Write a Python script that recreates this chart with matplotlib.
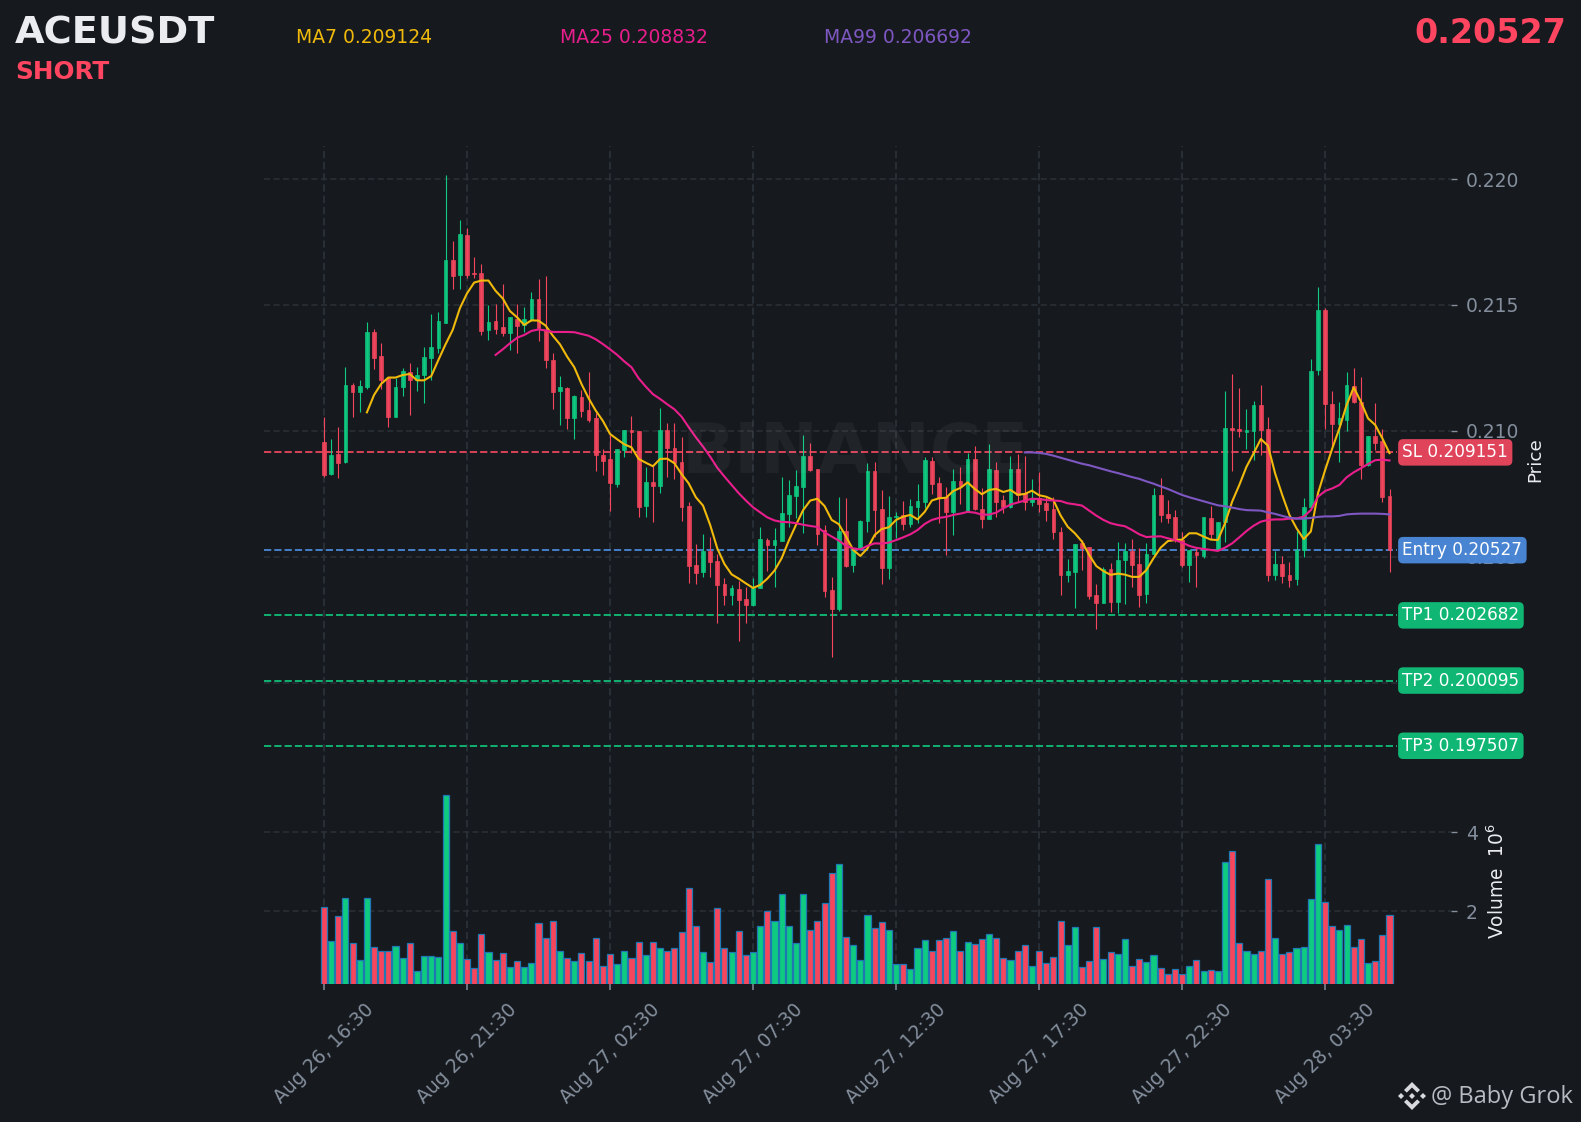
import numpy as np
import matplotlib
matplotlib.use("Agg")
import matplotlib.pyplot as plt
from matplotlib.patches import Polygon

# Values
opens = [
    0.20956, 0.20829, 0.20910, 0.20877, 0.21183, 0.21155, 0.21175, 0.21393, 0.21298, 0.21209,
    0.21056, 0.21175, 0.21234, 0.21202, 0.21222, 0.21290, 0.21329, 0.21429, 0.21679, 0.21619,
    0.21778, 0.21626, 0.21627, 0.21401, 0.21437, 0.21413, 0.21389, 0.21444, 0.21421, 0.21440,
    0.21524, 0.21401, 0.21282, 0.21159, 0.21171, 0.21052, 0.21135, 0.21083, 0.21052, 0.20905,
    0.20889, 0.20790, 0.20925, 0.21004, 0.21000, 0.20702, 0.20798, 0.20782, 0.21004, 0.20933,
    0.20877, 0.20702, 0.20468, 0.20440, 0.20524, 0.20484, 0.20393, 0.20349, 0.20373, 0.20333,
    0.20309, 0.20377, 0.20567, 0.20548, 0.20563, 0.20671, 0.20742, 0.20778, 0.20901, 0.20849,
    0.20607, 0.20369, 0.20294, 0.20603, 0.20468, 0.20536, 0.20643, 0.20841, 0.20690, 0.20456,
    0.20659, 0.20667, 0.20631, 0.20698, 0.20718, 0.20881, 0.20794, 0.20739, 0.20679, 0.20802,
    0.20679, 0.20889, 0.20689, 0.20651, 0.20845, 0.20726, 0.20698, 0.20849, 0.20753, 0.20720,
    0.20733, 0.20714, 0.20690, 0.20599, 0.20429, 0.20440, 0.20556, 0.20540, 0.20349, 0.20317,
    0.20452, 0.20321, 0.20488, 0.20524, 0.20472, 0.20353, 0.20512, 0.20746, 0.20671, 0.20659,
    0.20567, 0.20468, 0.20520, 0.20504, 0.20655, 0.20528, 0.20639, 0.21012, 0.21008, 0.20996,
    0.21000, 0.21103, 0.21008, 0.20429, 0.20472, 0.20429, 0.20413, 0.20528, 0.20698, 0.21242,
    0.21480, 0.21107, 0.21028, 0.21044, 0.21179, 0.21115, 0.20865, 0.20980, 0.20960, 0.20742,
]
highs = [
    0.21054, 0.20967, 0.21017, 0.21255, 0.21189, 0.21201, 0.21434, 0.21403, 0.21348, 0.21209,
    0.21209, 0.21249, 0.21269, 0.21253, 0.21332, 0.21463, 0.21474, 0.22017, 0.21753, 0.21836,
    0.21804, 0.21689, 0.21661, 0.21499, 0.21504, 0.21582, 0.21452, 0.21504, 0.21491, 0.21550,
    0.21602, 0.21614, 0.21308, 0.21217, 0.21175, 0.21144, 0.21163, 0.21233, 0.21070, 0.20927,
    0.20984, 0.20930, 0.21004, 0.21058, 0.21000, 0.20856, 0.20861, 0.21090, 0.21030, 0.21030,
    0.20975, 0.20717, 0.20550, 0.20590, 0.20581, 0.20512, 0.20415, 0.20390, 0.20406, 0.20380,
    0.20415, 0.20620, 0.20575, 0.20616, 0.20816, 0.20806, 0.20845, 0.20984, 0.20951, 0.20849,
    0.20626, 0.20419, 0.20737, 0.20733, 0.20536, 0.20647, 0.20874, 0.20876, 0.20766, 0.20743,
    0.20680, 0.20721, 0.20729, 0.20788, 0.20896, 0.20898, 0.20819, 0.20776, 0.20849, 0.20856,
    0.20914, 0.20940, 0.20772, 0.20947, 0.20878, 0.20746, 0.20901, 0.20909, 0.20902, 0.20808,
    0.20839, 0.20739, 0.20739, 0.20618, 0.20491, 0.20552, 0.20567, 0.20540, 0.20393, 0.20462,
    0.20475, 0.20561, 0.20554, 0.20570, 0.20534, 0.20554, 0.20775, 0.20812, 0.20726, 0.20686,
    0.20601, 0.20528, 0.20534, 0.20659, 0.20702, 0.20639, 0.21160, 0.21225, 0.21169, 0.21086,
    0.21120, 0.21181, 0.21054, 0.20525, 0.20505, 0.20481, 0.20604, 0.20733, 0.21284, 0.21570,
    0.21487, 0.21159, 0.21114, 0.21235, 0.21249, 0.21213, 0.20980, 0.21110, 0.21008, 0.20769,
]
lows = [
    0.20819, 0.20825, 0.20812, 0.20872, 0.21054, 0.21077, 0.21165, 0.21245, 0.21165, 0.21015,
    0.21054, 0.21140, 0.21063, 0.21160, 0.21110, 0.21202, 0.21311, 0.21429, 0.21565, 0.21565,
    0.21606, 0.21606, 0.21382, 0.21362, 0.21385, 0.21378, 0.21323, 0.21311, 0.21392, 0.21438,
    0.21358, 0.21251, 0.21086, 0.21022, 0.21009, 0.20970, 0.21057, 0.21037, 0.20843, 0.20827,
    0.20684, 0.20779, 0.20898, 0.20911, 0.20657, 0.20657, 0.20640, 0.20753, 0.20819, 0.20811,
    0.20644, 0.20395, 0.20394, 0.20422, 0.20419, 0.20239, 0.20309, 0.20311, 0.20168, 0.20237,
    0.20305, 0.20375, 0.20446, 0.20380, 0.20563, 0.20620, 0.20656, 0.20594, 0.20843, 0.20549,
    0.20343, 0.20104, 0.20287, 0.20462, 0.20442, 0.20528, 0.20601, 0.20581, 0.20394, 0.20411,
    0.20574, 0.20607, 0.20620, 0.20634, 0.20693, 0.20750, 0.20636, 0.20508, 0.20587, 0.20710,
    0.20679, 0.20686, 0.20616, 0.20649, 0.20657, 0.20673, 0.20696, 0.20720, 0.20686, 0.20702,
    0.20680, 0.20644, 0.20570, 0.20350, 0.20402, 0.20299, 0.20448, 0.20335, 0.20213, 0.20316,
    0.20282, 0.20276, 0.20313, 0.20382, 0.20303, 0.20319, 0.20508, 0.20640, 0.20636, 0.20561,
    0.20462, 0.20399, 0.20380, 0.20495, 0.20570, 0.20528, 0.20560, 0.20843, 0.20975, 0.20930,
    0.20885, 0.20903, 0.20406, 0.20409, 0.20395, 0.20380, 0.20389, 0.20501, 0.20686, 0.21224,
    0.21009, 0.20938, 0.20878, 0.21001, 0.21112, 0.20808, 0.20861, 0.20925, 0.20720, 0.20442,
]
closes = [
    0.20825, 0.20905, 0.20873, 0.21183, 0.21155, 0.21179, 0.21393, 0.21290, 0.21202, 0.21056,
    0.21175, 0.21238, 0.21202, 0.21222, 0.21294, 0.21333, 0.21437, 0.21679, 0.21615, 0.21782,
    0.21619, 0.21623, 0.21397, 0.21433, 0.21405, 0.21389, 0.21452, 0.21417, 0.21444, 0.21524,
    0.21409, 0.21282, 0.21155, 0.21175, 0.21052, 0.21139, 0.21079, 0.21044, 0.20905, 0.20881,
    0.20794, 0.20929, 0.21004, 0.20996, 0.20698, 0.20798, 0.20782, 0.21004, 0.20933, 0.20872,
    0.20700, 0.20464, 0.20436, 0.20524, 0.20480, 0.20390, 0.20349, 0.20377, 0.20329, 0.20309,
    0.20377, 0.20571, 0.20548, 0.20567, 0.20675, 0.20746, 0.20782, 0.20901, 0.20845, 0.20591,
    0.20365, 0.20294, 0.20603, 0.20464, 0.20536, 0.20643, 0.20841, 0.20686, 0.20456, 0.20659,
    0.20663, 0.20631, 0.20702, 0.20722, 0.20885, 0.20790, 0.20733, 0.20679, 0.20802, 0.20782,
    0.20889, 0.20689, 0.20652, 0.20849, 0.20718, 0.20698, 0.20849, 0.20746, 0.20718, 0.20733,
    0.20710, 0.20686, 0.20599, 0.20429, 0.20444, 0.20552, 0.20536, 0.20345, 0.20317, 0.20452,
    0.20321, 0.20488, 0.20524, 0.20468, 0.20349, 0.20512, 0.20746, 0.20667, 0.20655, 0.20567,
    0.20468, 0.20528, 0.20508, 0.20659, 0.20591, 0.20639, 0.21012, 0.21004, 0.21000, 0.21004,
    0.21103, 0.21004, 0.20429, 0.20472, 0.20425, 0.20409, 0.20528, 0.20698, 0.21238, 0.21480,
    0.21107, 0.21028, 0.21052, 0.21183, 0.21115, 0.20865, 0.20980, 0.20952, 0.20737, 0.20527,
]
volumes = [
    2.09, 1.25, 1.87, 2.32, 1.18, 0.75, 2.32, 1.08, 1.00, 0.98,
    1.11, 0.80, 1.18, 0.47, 0.85, 0.85, 0.83, 4.93, 1.49, 1.18,
    0.78, 0.55, 1.41, 0.95, 0.75, 0.93, 0.57, 0.73, 0.57, 0.68,
    1.69, 1.31, 1.74, 0.98, 0.80, 0.73, 0.93, 0.73, 1.31, 0.60,
    0.90, 0.65, 0.98, 0.80, 1.21, 0.88, 1.21, 1.06, 0.98, 1.06,
    1.46, 2.57, 1.61, 0.95, 0.70, 2.07, 1.06, 0.95, 1.49, 0.88,
    0.95, 1.61, 1.99, 1.74, 2.42, 1.61, 1.18, 2.42, 1.51, 1.74,
    2.19, 2.95, 3.18, 1.33, 1.13, 0.75, 1.89, 1.56, 1.71, 1.51,
    0.65, 0.65, 0.52, 1.06, 1.26, 0.98, 1.26, 1.31, 1.49, 1.00,
    1.21, 1.16, 1.28, 1.43, 1.31, 0.80, 0.75, 0.98, 1.13, 0.62,
    0.98, 0.68, 0.83, 1.74, 1.13, 1.59, 0.57, 0.73, 1.59, 0.78,
    0.95, 0.90, 1.28, 0.60, 0.78, 0.70, 0.88, 0.55, 0.40, 0.52,
    0.40, 0.60, 0.75, 0.47, 0.50, 0.47, 3.23, 3.51, 1.18, 0.98,
    0.90, 1.00, 2.80, 1.31, 0.90, 0.95, 1.06, 1.08, 2.30, 3.69,
    2.22, 1.61, 1.51, 1.64, 1.08, 1.28, 0.68, 0.73, 1.38, 1.89,
]

# moving average curves, first value sits on candle 6 / 24 / 98
ma7 = [
    0.21074, 0.21143, 0.21187, 0.21212, 0.21212, 0.21222, 0.21226, 0.21201, 0.21201, 0.21218,
    0.21282, 0.21344, 0.21401, 0.21487, 0.21546, 0.21589, 0.21597, 0.21597, 0.21556, 0.21526,
    0.21476, 0.21451, 0.21421, 0.21439, 0.21438, 0.21418, 0.21378, 0.21344, 0.21295, 0.21253,
    0.21187, 0.21130, 0.21081, 0.21040, 0.20988, 0.20967, 0.20947, 0.20935, 0.20889, 0.20874,
    0.20860, 0.20889, 0.20890, 0.20872, 0.20829, 0.20792, 0.20737, 0.20704, 0.20627, 0.20534,
    0.20472, 0.20431, 0.20414, 0.20395, 0.20377, 0.20389, 0.20414, 0.20446, 0.20495, 0.20565,
    0.20627, 0.20686, 0.20724, 0.20731, 0.20702, 0.20647, 0.20630, 0.20581, 0.20528, 0.20504,
    0.20534, 0.20587, 0.20611, 0.20618, 0.20647, 0.20660, 0.20667, 0.20649, 0.20679, 0.20724,
    0.20733, 0.20735, 0.20762, 0.20774, 0.20796, 0.20770, 0.20749, 0.20766, 0.20770, 0.20758,
    0.20766, 0.20747, 0.20750, 0.20763, 0.20745, 0.20739, 0.20726, 0.20665, 0.20620, 0.20594,
    0.20561, 0.20508, 0.20464, 0.20444, 0.20429, 0.20434, 0.20430, 0.20421, 0.20421, 0.20448,
    0.20495, 0.20537, 0.20563, 0.20567, 0.20569, 0.20594, 0.20594, 0.20581, 0.20569, 0.20567,
    0.20634, 0.20720, 0.20786, 0.20858, 0.20911, 0.20968, 0.20942, 0.20832, 0.20746, 0.20667,
    0.20614, 0.20571, 0.20601, 0.20753, 0.20845, 0.20931, 0.21011, 0.21103, 0.21173, 0.21116,
    0.21050, 0.21024, 0.20971, 0.20912,
]
ma25 = [
    0.21302, 0.21324, 0.21348, 0.21370, 0.21381, 0.21397, 0.21403, 0.21399, 0.21393, 0.21393,
    0.21393, 0.21392, 0.21385, 0.21378, 0.21364, 0.21345, 0.21324, 0.21302, 0.21276, 0.21253,
    0.21209, 0.21176, 0.21146, 0.21127, 0.21106, 0.21086, 0.21057, 0.21015, 0.20975, 0.20938,
    0.20898, 0.20854, 0.20819, 0.20786, 0.20753, 0.20724, 0.20697, 0.20677, 0.20657, 0.20645,
    0.20639, 0.20638, 0.20634, 0.20628, 0.20623, 0.20619, 0.20597, 0.20581, 0.20565, 0.20544,
    0.20534, 0.20530, 0.20544, 0.20554, 0.20553, 0.20557, 0.20567, 0.20578, 0.20590, 0.20607,
    0.20631, 0.20647, 0.20655, 0.20659, 0.20667, 0.20672, 0.20679, 0.20676, 0.20668, 0.20668,
    0.20676, 0.20693, 0.20708, 0.20716, 0.20724, 0.20731, 0.20730, 0.20726, 0.20724, 0.20722,
    0.20713, 0.20709, 0.20704, 0.20684, 0.20664, 0.20647, 0.20634, 0.20627, 0.20622, 0.20607,
    0.20590, 0.20579, 0.20581, 0.20582, 0.20574, 0.20567, 0.20557, 0.20544, 0.20536, 0.20532,
    0.20528, 0.20524, 0.20537, 0.20554, 0.20578, 0.20603, 0.20624, 0.20640, 0.20647, 0.20649,
    0.20649, 0.20652, 0.20653, 0.20660, 0.20686, 0.20739, 0.20762, 0.20772, 0.20786, 0.20816,
    0.20836, 0.20852, 0.20869, 0.20884, 0.20886, 0.20883,
]
ma99 = [
    0.20915, 0.20915, 0.20913, 0.20909, 0.20902, 0.20894, 0.20886, 0.20878, 0.20870, 0.20864,
    0.20856, 0.20848, 0.20840, 0.20833, 0.20825, 0.20817, 0.20810, 0.20800, 0.20791, 0.20780,
    0.20770, 0.20758, 0.20746, 0.20737, 0.20729, 0.20721, 0.20713, 0.20705, 0.20701, 0.20696,
    0.20690, 0.20686, 0.20685, 0.20684, 0.20677, 0.20671, 0.20663, 0.20656, 0.20652, 0.20652,
    0.20655, 0.20659, 0.20661, 0.20661, 0.20663, 0.20669, 0.20671, 0.20672, 0.20672, 0.20672,
    0.20671, 0.20669,
]

time_labels = ["Aug 26, 16:30", "Aug 26, 21:30", "Aug 27, 02:30", "Aug 27, 07:30",
               "Aug 27, 12:30", "Aug 27, 17:30", "Aug 27, 22:30", "Aug 28, 03:30"]
price_ticks = [0.200, 0.205, 0.210, 0.215, 0.220]
volume_ticks = [2, 4]
level_names = ["SL", "Entry", "TP1", "TP2", "TP3"]
level_values = [0.209151, 0.20527, 0.202682, 0.200095, 0.197507]
level_texts = ["0.209151", "0.20527", "0.202682", "0.200095", "0.197507"]
ma_names = ["MA7 0.209124", "MA25 0.208832", "MA99 0.206692"]

BG = "#161a1f"
GREEN = "#0ecb81"
RED = "#f6465d"
GRID = "#2b3139"
TICK = "#848e9c"
MA_COLORS = ["#f0b90b", "#e91e8c", "#7e57c2"]
LEVEL_COLORS = ["#e8465e", "#4a88d8", "#10bd78", "#10bd78", "#10bd78"]

W, H = 1581, 1122
plt.rcParams["font.family"] = "DejaVu Sans"
fig = plt.figure(figsize=(W / 100, H / 100), dpi=100, facecolor=BG)


def px_rect(x0, y0, x1, y1):
    return [x0 / W, 1 - y1 / H, (x1 - x0) / W, (y1 - y0) / H]


def ftext(x, y, s, **kw):
    fig.text(x / W, 1 - y / H, s, **kw)


ax = fig.add_axes(px_rect(264, 146, 1451, 785), facecolor="none")
ax_vol = fig.add_axes(px_rect(264, 785, 1451, 984), facecolor="none", sharex=ax)

x = np.arange(len(closes))
o, h, l, c = map(np.array, (opens, highs, lows, closes))
colors = [GREEN if cl >= op else RED for op, cl in zip(o, c)]

# candles
ax.vlines(x, l, h, colors=colors, linewidth=0.8, zorder=3)
ax.bar(x, np.abs(c - o), bottom=np.minimum(o, c), width=0.52, color=colors,
       edgecolor=colors, linewidth=0.5, alpha=0.92, zorder=3)

# moving averages
ax.plot(np.arange(len(ma7)) + 6, ma7, color=MA_COLORS[0], lw=1.5, zorder=4)
ax.plot(np.arange(len(ma25)) + 24, ma25, color=MA_COLORS[1], lw=1.5, zorder=4)
ax.plot(np.arange(len(ma99)) + 98, ma99, color=MA_COLORS[2], lw=1.5, zorder=4)

# signal levels
for name, val, txt, col in zip(level_names, level_values, level_texts, LEVEL_COLORS):
    ax.hlines(val, -8.4, 150, colors=col, linewidth=1.3, linestyles=(0, (4, 1.7)), zorder=2.5)
    ax.text(150.8, val, name + " " + txt, color="white", fontsize=12.2, va="center", ha="left", zorder=6,
            bbox=dict(boxstyle="round,pad=0.25,rounding_size=0.3", fc=col, ec="none", alpha=0.97))

ax.set_xlim(-8.39, 157.6)
ax.set_ylim(0.19595, 0.22131)
ax.set_yticks(price_ticks)
ax.set_yticklabels(["%.3f" % t for t in price_ticks])

# volume
ax_vol.bar(x, volumes, width=0.85, color=colors, edgecolor="#1f77b4", linewidth=0.9, zorder=3)
ax_vol.set_ylim(0.152, 5.19)
ax_vol.set_yticks(volume_ticks)
ax_vol.set_yticklabels([str(t) for t in volume_ticks])

tick_pos = list(range(0, 160, 20))
ax_vol.set_xticks(tick_pos)
ax_vol.set_xticklabels(time_labels, rotation=45, ha="center", rotation_mode="default")

for a in (ax, ax_vol):
    for s in a.spines.values():
        s.set_visible(False)
    a.yaxis.tick_right()
    a.grid(True, color=GRID, linewidth=1.1, linestyle=(0, (4, 2.2)), zorder=0)
    a.set_axisbelow(True)
    a.tick_params(axis="y", colors=TICK, labelsize=13.5, length=4.5, width=1.0, pad=6)
    a.tick_params(axis="x", colors=TICK, labelsize=13.5, length=4.5, width=1.1, pad=7)
ax.tick_params(axis="x", bottom=False, labelbottom=False)
for gl in ax.get_xgridlines() + ax_vol.get_xgridlines():
    gl.set_linewidth(1.3)

# header and side texts
ftext(15, 43, "ACEUSDT", color="#eaecef", fontsize=27.5, fontweight="bold", va="baseline")
ftext(15, 79, "SHORT", color="#ff4560", fontsize=17.8, fontweight="bold", va="baseline")
for px, name, col in zip([296, 560, 824], ma_names, MA_COLORS):
    ftext(px, 43, name, color=col, fontsize=13.5, va="baseline")
ftext(1566, 43, "0.20527", color="#ff4560", fontsize=24, fontweight="bold", ha="right", va="baseline")
ftext(855, 453, "BINANCE", color="white", alpha=0.045, fontsize=50, fontweight="bold",
      ha="center", va="center", zorder=0)
ftext(1535, 460, "Price", color="#eaecef", fontsize=13.2, rotation=90, ha="center", va="center")
ftext(1497, 881, "Volume  $\\mathdefault{10^{6}}$", color="#eaecef", fontsize=13.4, rotation=90,
      ha="center", va="center")
ftext(1431, 1103, "@ Baby Grok", color="#b7bbc2", fontsize=17, family="Open Sans", va="baseline")

# small Binance mark next to the footer
logo = fig.add_axes(px_rect(1396, 1080, 1428, 1112), facecolor="none")
logo.set_xlim(-16, 16)
logo.set_ylim(-16, 16)
logo.axis("off")
top = [(0, 14), (8, 6), (5.2, 3.4), (0, 8.5), (-5.2, 3.4), (-8, 6)]
shapes = [top, [(px, -py) for px, py in top],
          [(0, 3), (3, 0), (0, -3), (-3, 0)],
          [(-11, 3), (-8, 0), (-11, -3), (-14, 0)],
          [(11, 3), (14, 0), (11, -3), (8, 0)]]
for pts in shapes:
    logo.add_patch(Polygon(pts, closed=True, fc="#d8dadd", ec="none"))

fig.savefig("out.png", dpi=100, facecolor=BG)
